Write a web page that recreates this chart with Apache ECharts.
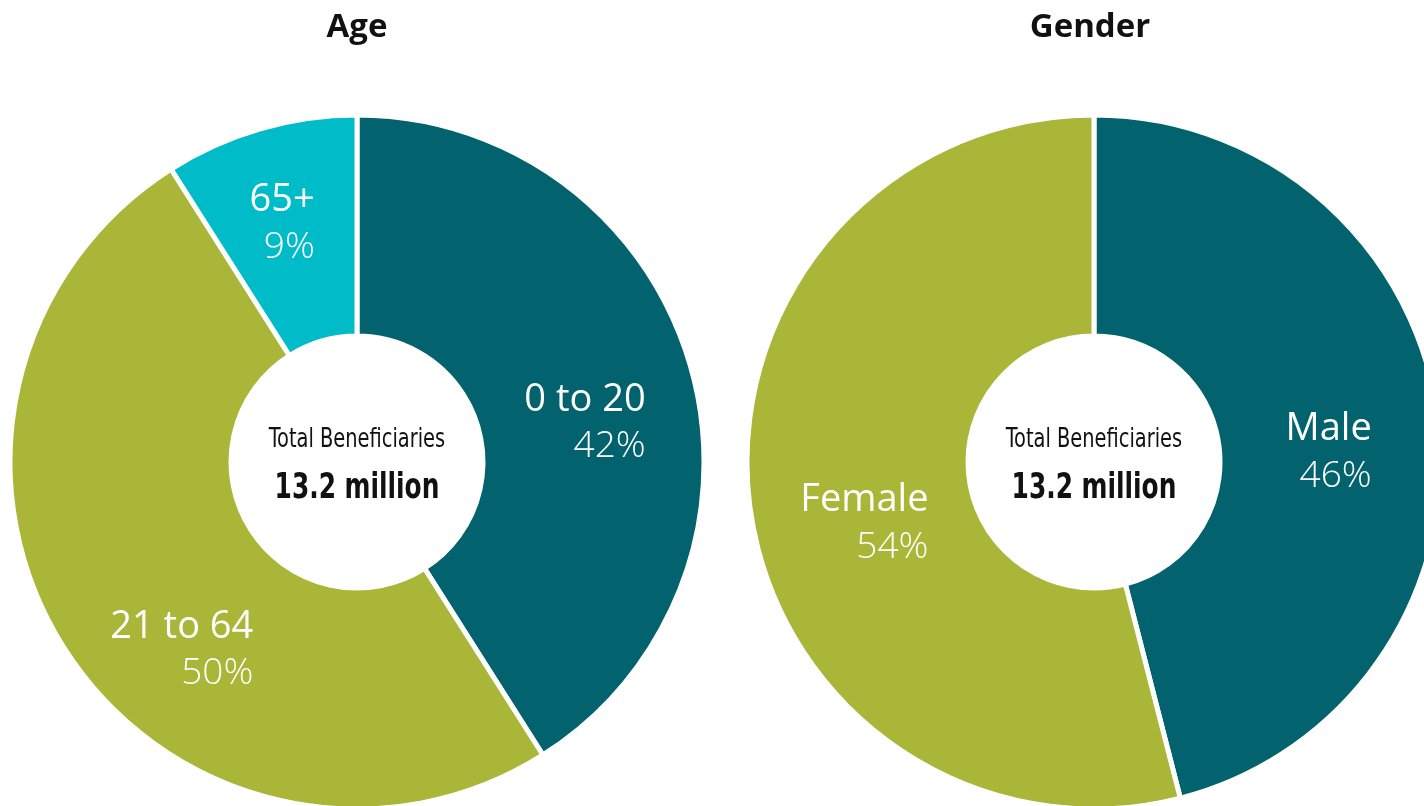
<!DOCTYPE html>
<html>
<head>
<meta charset="utf-8">
<title>Beneficiaries by age and gender</title>
<script src="https://cdn.jsdelivr.net/npm/echarts@6/dist/echarts.min.js"></script>
<style>
  html, body { margin: 0; padding: 0; background: #fff; }
  #main { width: 1424px; height: 806px; }
</style>
</head>
<body>
<div id="main"></div>
<script>
// age breakdown (slice sizes, printed shares as shown)
const ageNames = ['0 to 20', '21 to 64', '65+'];
const ageValues = [41, 50, 9];
const agePct = ['42%', '50%', '9%'];

// gender breakdown
const genderNames = ['Male', 'Female'];
const genderValues = [46, 54];
const genderPct = ['46%', '54%'];

const totalLabel = 'Total Beneficiaries';
const totalValue = '13.2 million';

const TEAL = '#02636e';
const OLIVE = '#a9b638';
const CYAN = '#00bcc8';

const ageColors = [TEAL, OLIVE, CYAN];
const ageOffsets = [[-2, 28], [27, 60], [-8, -8]];
const genderColors = [TEAL, OLIVE];
const genderOffsets = [[-3, 21], [8, 32]];

const labelFont = '"Open Sans", "Noto Sans", sans-serif';
const narrowFont = '"DejaVu Sans Condensed", "Liberation Sans Narrow", sans-serif';

function makeData(names, values, colors, offsets) {
  return names.map((n, i) => ({
    name: n,
    value: values[i],
    itemStyle: { color: colors[i] },
    label: { offset: offsets[i] }
  }));
}

function makePie(center, names, values, pct, colors, offsets) {
  return {
    type: 'pie',
    center: center,
    radius: [126, 347],
    startAngle: 90,
    clockwise: true,
    silent: true,
    animation: false,
    itemStyle: { borderColor: '#fff', borderWidth: 5 },
    label: {
      show: true,
      position: 'inside',
      formatter: (p) => '{n|' + p.name + '}\n{p|' + pct[p.dataIndex] + '}',
      rich: {
        n: { color: '#fff', fontFamily: labelFont, fontSize: 38, lineHeight: 47, align: 'right' },
        p: { color: '#fff', fontFamily: labelFont, fontWeight: 300, fontSize: 37, lineHeight: 47, align: 'right' }
      }
    },
    labelLine: { show: false },
    data: makeData(names, values, colors, offsets)
  };
}

// the narrow caption in the hole, squeezed horizontally to match the condensed face
function centerText(x) {
  return [
    { type: 'text', x: x, y: 440, scaleX: 0.83, style: { text: totalLabel, textAlign: 'center', textVerticalAlign: 'middle', fill: '#111', font: '26px ' + narrowFont } },
    { type: 'text', x: x, y: 489, scaleX: 0.79, style: { text: totalValue, textAlign: 'center', textVerticalAlign: 'middle', fill: '#111', font: 'bold 35px ' + narrowFont } }
  ];
}

function titleText(x, t) {
  return { type: 'text', x: x, y: 28, style: { text: t, textAlign: 'center', textVerticalAlign: 'middle', fill: '#111', font: 'bold 33px ' + labelFont } };
}

const chart = echarts.init(document.getElementById('main'), null, { renderer: 'canvas' });
chart.setOption({
  backgroundColor: '#fff',
  series: [
    makePie([357, 462], ageNames, ageValues, agePct, ageColors, ageOffsets),
    makePie([1094, 462], genderNames, genderValues, genderPct, genderColors, genderOffsets)
  ],
  graphic: [
    titleText(357, 'Age'),
    titleText(1090, 'Gender')
  ].concat(centerText(357), centerText(1094))
});
</script>
</body>
</html>
